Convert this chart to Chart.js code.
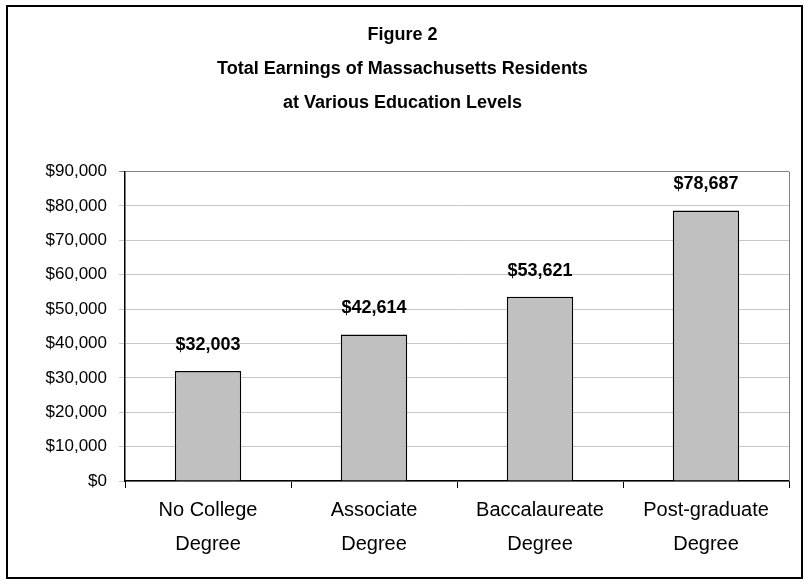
<!DOCTYPE html>
<html>
<head>
<meta charset="utf-8">
<script src="https://cdn.jsdelivr.net/npm/chart.js@4.4.1/dist/chart.umd.min.js"></script>
<style>
  html, body { margin: 0; padding: 0; background: #fff; }
  #wrap { width: 810px; height: 586px; position: relative; }
</style>
</head>
<body>
<div id="wrap"><canvas id="earningsChart" width="810" height="586"></canvas></div>
<script>
const categories = [['No College', 'Degree'], ['Associate', 'Degree'], ['Baccalaureate', 'Degree'], ['Post-graduate', 'Degree']];
const earnings = [32003, 42614, 53621, 78687];
const titleLines = ['Figure 2', 'Total Earnings of Massachusetts Residents', 'at Various Education Levels'];
const yMax = 90000;
const yStep = 10000;

const FONT = "'Liberation Sans', Arial, sans-serif";

function money(v){
  return '$' + Math.round(v).toLocaleString('en-US');
}

// frame round the whole picture, gray right edge of plot, labels above bars
const decor = {
  id: 'decor',
  beforeDraw(chart){
    const c = chart.ctx;
    c.save();
    c.fillStyle = '#fff';
    c.fillRect(0, 0, chart.width, chart.height);
    c.restore();
  },
  afterDatasetsDraw(chart){
    const c = chart.ctx;
    const area = chart.chartArea;
    c.save();
    c.strokeStyle = '#808080';
    c.lineWidth = 1;
    c.beginPath();
    c.moveTo(area.right + 0.5, area.top);
    c.lineTo(area.right + 0.5, area.bottom);
    c.stroke();

    c.fillStyle = '#000';
    c.font = 'bold 18px ' + FONT;
    c.textAlign = 'center';
    c.textBaseline = 'middle';
    chart.getDatasetMeta(0).data.forEach((bar, i) => {
      c.fillText(money(earnings[i]), bar.x, bar.y - 26);
    });

    c.strokeStyle = '#000';
    c.lineWidth = 2;
    c.strokeRect(7, 6, 795, 572);
    c.restore();
  }
};

const ctx = document.getElementById('earningsChart').getContext('2d');
new Chart(ctx, {
  type: 'bar',
  data: {
    labels: categories,
    datasets: [{
      data: earnings,
      backgroundColor: '#c0c0c0',
      borderColor: '#000',
      borderWidth: 1.5,
      borderSkipped: 'bottom',
      categoryPercentage: 0.4,
      barPercentage: 1.0
    }]
  },
  options: {
    responsive: false,
    animation: false,
    layout: { padding: { left: 16, right: 21, top: 0, bottom: 20 } },
    plugins: {
      legend: { display: false },
      tooltip: { enabled: false },
      title: {
        display: true,
        text: titleLines,
        color: '#000',
        font: { family: FONT, size: 18, weight: 'bold', lineHeight: 1.9 },
        padding: { top: 18, bottom: 51 }
      }
    },
    scales: {
      x: {
        grid: { drawOnChartArea: false, drawTicks: true, tickLength: 7, color: '#000', offset: true },
        border: { color: '#000', width: 1.5 },
        ticks: { color: '#000', padding: 5, maxRotation: 0, font: { family: FONT, size: 20, lineHeight: 1.7 } },
        afterFit(scale){ scale.height = 85; }
      },
      y: {
        min: 0,
        max: yMax,
        grid: {
          tickLength: 6,
          color: c => c.tick && c.tick.value === yMax ? '#808080' : '#c8c8c8',
          lineWidth: 1
        },
        border: { color: '#000', width: 1.5 },
        ticks: {
          stepSize: yStep,
          color: '#000',
          padding: 12,
          font: { family: FONT, size: 17 },
          callback: v => money(v)
        },
        afterFit(scale){ scale.width = 109; }
      }
    }
  },
  plugins: [decor]
});
</script>
</body>
</html>
